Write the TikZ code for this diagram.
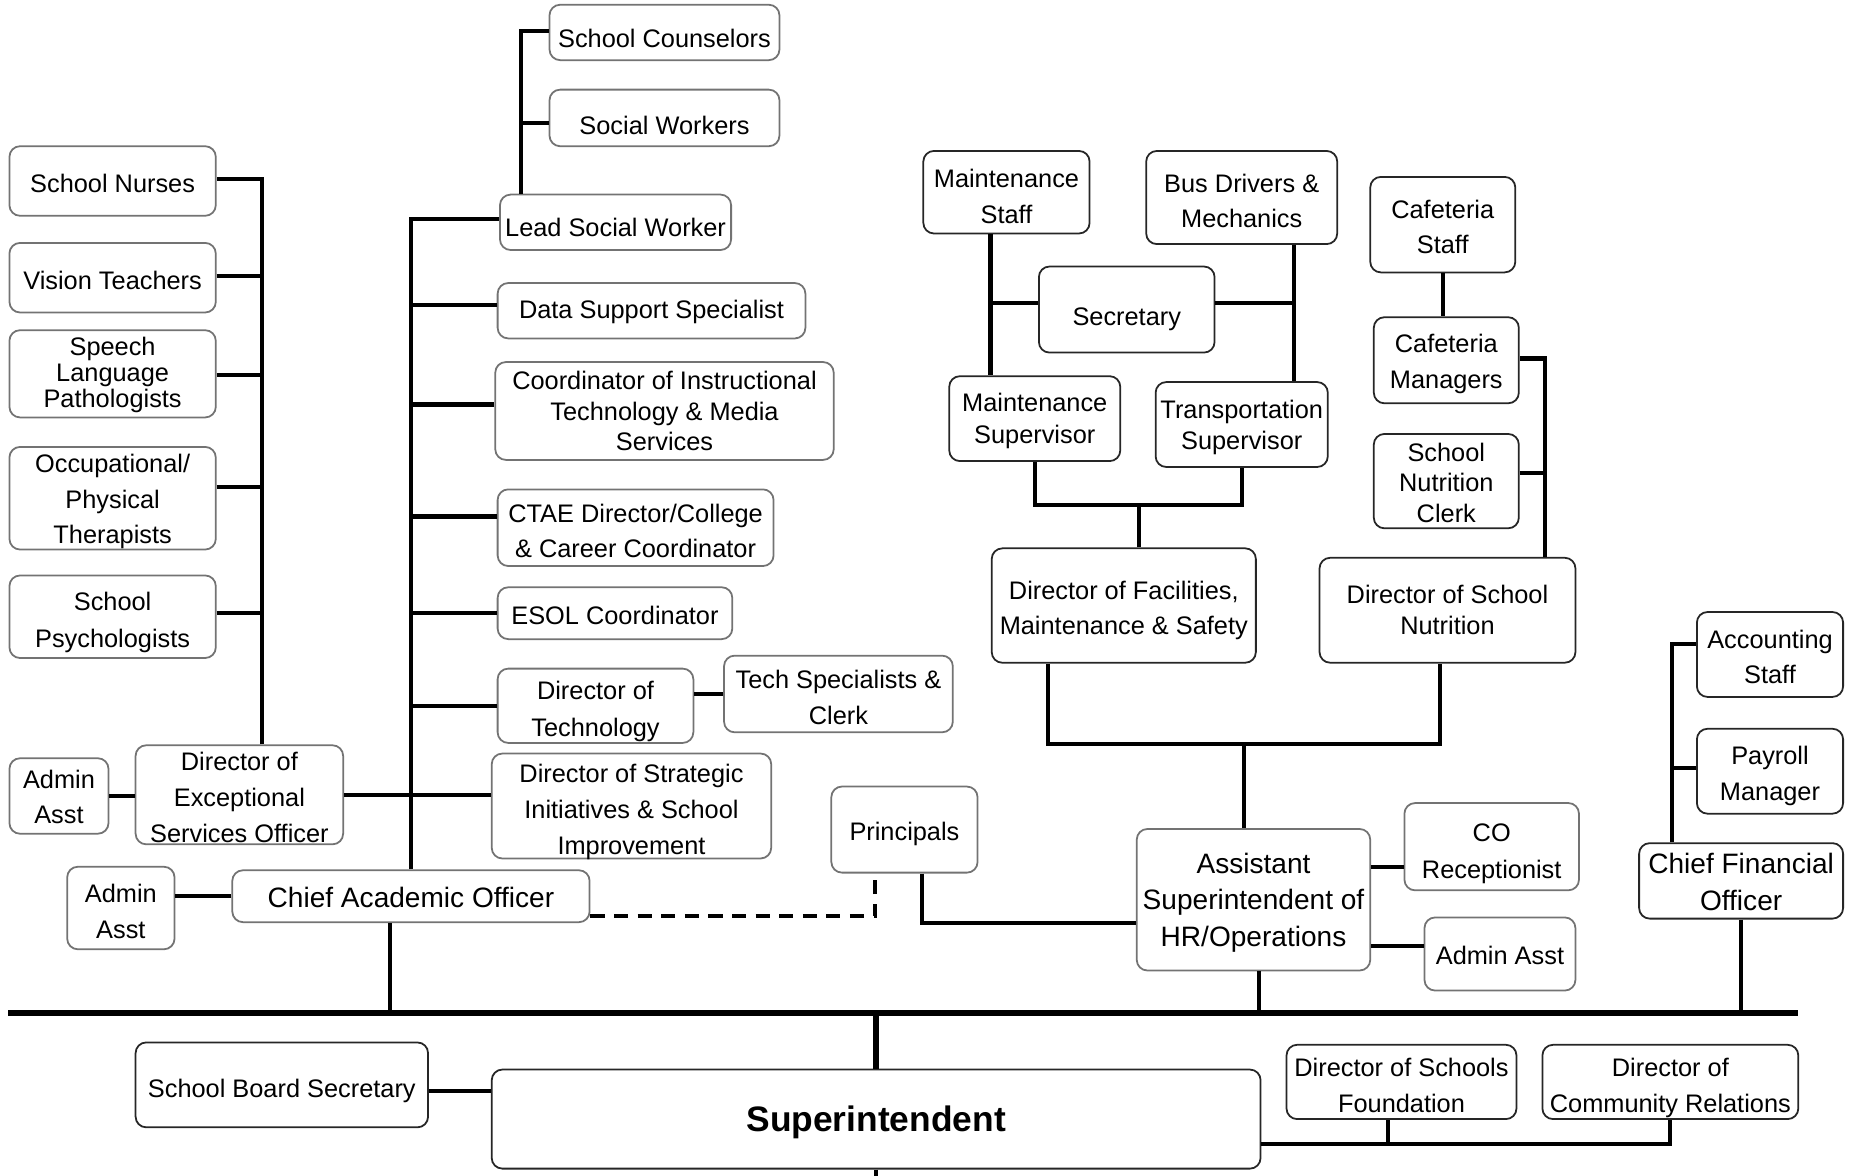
\documentclass[tikz,border=0pt]{standalone}
\usepackage{fontspec}
\setmainfont{Liberation Sans}
\begin{document}
\begin{tikzpicture} [
                x=1pt, y=-1pt,
                box/.style={draw=black!55, line width=1.5pt, rounded corners=9pt},
                dark box/.style={box, draw=black!85},
                caption/.style={align=center, inner sep=0pt},
                link/.style={draw, line width=3.5pt},
                dashed link/.style={link, dash pattern=on 12pt off 8pt},
                trunk/.style={draw, line width=5.5pt},
            ]
            \useasboundingbox (0,0) rectangle (1568,997);
            % light boxes: name/left/top/right/bottom/line skip/text drop/text
            \foreach \name/\l/\t/\r/\b/\ls/\dy/\txt in {
                    nurses/8/124/183/183/30/2/{School Nurses},
                    vision/8/206/183/265/30/2/{Vision Teachers},
                    speech/8/280/183/354/22/1/{Speech\\Language\\Pathologists},
                    therap/8/379/183/466/30/3/{Occupational/\\Physical\\Therapists},
                    psych/8/488/183/558/31/5/{School\\Psychologists},
                    asstA/8/643/92/707/30/1/{Admin\\Asst},
                    deso/115/632/291/716/30.5/2/{Director of\\Exceptional\\Services Officer},
                    asstB/57/735/148/805/30/3/{Admin\\Asst},
                    counsel/466/4/661/51/30/5/{School Counselors},
                    social/466/76/661/124/30/6/{Social Workers},
                    lead/424/165/620/212/30/4/{Lead Social Worker},
                    data/422/240/683/287/30/1/{Data Support Specialist},
                    coord/420/307/707/390/26/0/{Coordinator of Instructional\\Technology \& Media\\Services},
                    ctae/422/415/656/480/30/2.5/{CTAE Director/College\\\& Career Coordinator},
                    esol/422/498/621/542/30/2/{ESOL Coordinator},
                    dtech/422/567/588/630/31/5/{Director of\\Technology},
                    techsp/614/556/808/621/30/3/{Tech Specialists \&\\Clerk},
                    strat/417/639/654/728/30.5/5/{Director of Strategic\\Initiatives \& School\\Improvement},
                    princ/705/667/829/740/30/4/{Principals},
                    corec/1191/681/1339/755/31/6/{CO\\Receptionist},
                    asstC/1208/778/1336/840/30/1/{Admin Asst}}
                {
                \node[box, minimum width=\r-\l, minimum height=\b-\t] (\name) at ({(\l+\r)/2},{(\t+\b)/2}) {};
                \node[caption, font=\fontsize{21.5}{\ls}\selectfont] at ([yshift=-\dy]\name.center) {\txt};
                }
            % dark boxes
            \foreach \name/\l/\t/\r/\b/\ls/\dy/\txt in {
                    mstaff/783/128/924/198/30/3.5/{Maintenance\\Staff},
                    bus/972/128/1134/207/30/3/{Bus Drivers \&\\Mechanics},
                    secr/881/226/1030/299/30/8/{Secretary},
                    msup/805/319/950/391/27/2/{Maintenance\\Supervisor},
                    tsup/980/324/1126/396/26/2.5/{Transportation\\Supervisor},
                    dfac/841/465/1065/562/30/4/{Director of Facilities,\\Maintenance \& Safety},
                    cafst/1162/150/1285/231/30/2/{Cafeteria\\Staff},
                    cafmg/1165/269/1288/342/30/3/{Cafeteria\\Managers},
                    clerk/1165/368/1288/448/26/1.5/{School\\Nutrition\\Clerk},
                    dsn/1119/473/1336/562/26/0/{Director of School\\Nutrition},
                    acct/1439/519/1563/591/30/2/{Accounting\\Staff},
                    payroll/1439/618/1563/690/31/4/{Payroll\\Manager},
                    sbs/115/884/363/956/30/5/{School Board Secretary},
                    dsf/1091/886/1286/949/31/3/{Director of Schools\\Foundation},
                    dcr/1308/886/1525/949/31/5/{Director of\\Community Relations}}
                {
                \node[dark box, minimum width=\r-\l, minimum height=\b-\t] (\name) at ({(\l+\r)/2},{(\t+\b)/2}) {};
                \node[caption, font=\fontsize{21.5}{\ls}\selectfont] at ([yshift=-\dy]\name.center) {\txt};
                }
            % officers
            \foreach \name/\l/\t/\r/\b/\style/\dy/\txt in {
                    cao/197/738/500/782/box/1/{Chief Academic Officer},
                    asup/964/703/1162/823/box/2.5/{Assistant\\Superintendent of\\HR/Operations},
                    cfo/1390/715/1563/779/dark box/1/{Chief Financial\\Officer}}
                {
                \node[\style, minimum width=\r-\l, minimum height=\b-\t] (\name) at ({(\l+\r)/2},{(\t+\b)/2}) {};
                \node[caption, font=\fontsize{23.8}{31}\selectfont] at ([yshift=-\dy]\name.center) {\txt};
                }
            \node[dark box, minimum width=652, minimum height=84] (supt) at (743,949) {};
            \node[caption, font=\fontsize{30}{36}\bfseries] at ([yshift=-3]supt.center) {Superintendent};

            % main bus
            \coordinate (busL) at (7,859);
            \coordinate (busR) at (1525,859);
            \coordinate (pageBottom) at (743,997);
            \path[trunk] (busL) -- (busR);
            \path[trunk] (supt.north) -- (supt.north |- busL);
            \path[link] (supt.south) -- (pageBottom);
            \path[link] ([xshift=-17.5]cao.south) |- (busL);
            \path[link] ([xshift=5]asup.south) |- (busR);
            \path[link] (cfo.south) |- (busR);

            % exceptional services
            \path[link] ([xshift=19]deso.north) |- ([yshift=1.5]nurses.east);
            \foreach \unit/\dy in {vision/1.5, speech/-1, therap/9.5, psych/3}
                \path[link] ([yshift=\dy]\unit.east) -| ([xshift=19]deso.north);
            \path[link] (asstA.east) -- (asstA.east -| deso.west);

            % academic
            \path[link] (cao.north) |- ([yshift=2.5]lead.west);
            \foreach \unit/\dy in {data/4.5, coord/5.5, ctae/9.5, esol/0, dtech/0, strat/9.5}
                \path[link] ([yshift=\dy]\unit.west) -| (cao.north);
            \path[link] (deso.east) -- ([yshift=9.5]strat.west);
            \path[link] (techsp.west) -- (techsp.west -| dtech.east);
            \path[link] (cao.west) -- (cao.west -| asstB.east);
            \path[link] ([xshift=-80]lead.north) |- ([yshift=1.5]counsel.west);
            \path[link] ([yshift=-4]social.west) -| ([xshift=-80]lead.north);
            \path[dashed link] ([yshift=-17]cao.east) -| ([xshift=-25]princ.south);

            % operations
            \path[link] ([xshift=-13.5]mstaff.south) -- ([xshift=-37.5]msup.north);
            \path[link] ([yshift=5.5]secr.west) -| ([xshift=-13.5]mstaff.south);
            \path[link] ([xshift=44]bus.south) -- ([xshift=44]tsup.north);
            \path[link] ([yshift=5.5]secr.east) -| ([xshift=44]bus.south);
            \path[link] (msup.south) |- ([xshift=13,yshift=36]dfac.north) -| (tsup.south);
            \path[link] ([xshift=13]dfac.north) -- ([xshift=13,yshift=36]dfac.north);
            \path[link] (cafst.south) -- (cafst.south |- cafmg.north);
            \path[link] ([xshift=82.5]dsn.north) |- ([yshift=1.5]cafmg.east);
            \path[link] ([yshift=7]clerk.east) -| ([xshift=82.5]dsn.north);
            \path[link] ([xshift=-64]dfac.south) |- ([xshift=-8,yshift=71]asup.north) -| ([xshift=-6.5]dsn.south);
            \path[link] ([xshift=-8]asup.north) -- ([xshift=-8,yshift=71]asup.north);
            \path[link] ([xshift=15]princ.south) |- ([yshift=-20]asup.west);
            \path[link] ([yshift=-17]corec.west) -- ([yshift=28]asup.east);
            \path[link] ([yshift=7]asstC.west) -- ([yshift=-39]asup.east);

            % finance and board
            \path[link] ([xshift=-58.5]cfo.north) |- ([yshift=9]acct.west);
            \path[link] ([yshift=3]payroll.west) -| ([xshift=-58.5]cfo.north);
            \path[link] ([yshift=-5]sbs.east) -- ([yshift=24]supt.west);
            \path[link] ([yshift=-21]supt.east) -| (dcr.south);
            \path[link] ([xshift=-11.5]dsf.south) -- ([xshift=-11.5,yshift=-21]dsf.south);
        \end{tikzpicture}
\end{document}
